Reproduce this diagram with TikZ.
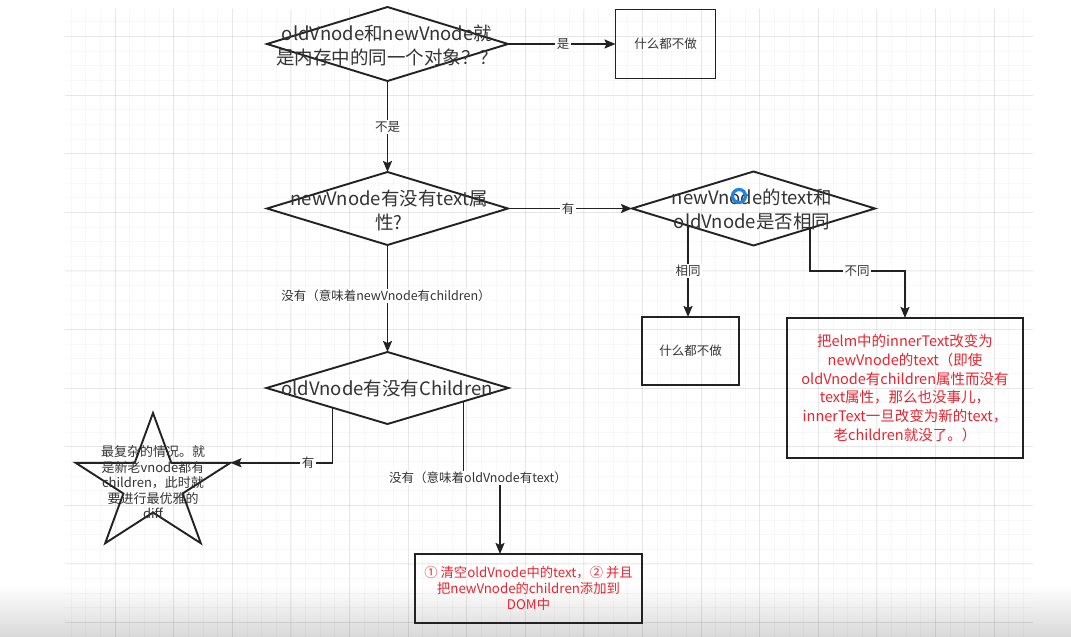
\documentclass[tikz,border=0pt]{standalone}
\usepackage{fontspec}
\setmainfont{Noto Sans CJK SC}
\usetikzlibrary{arrows.meta,calc,shapes.geometric}

\definecolor{ink}{HTML}{222222}
\definecolor{txt}{HTML}{333333}
\definecolor{warn}{HTML}{E8242F}
\definecolor{cursorblue}{HTML}{1E82E6}

\tikzset{
  diashape/.style={diamond, draw=ink, line width=1.9pt, inner sep=0pt, outer sep=0pt},
  diatext/.style={text=txt, align=center, inner sep=0pt, font=\fontsize{18.5pt}{24pt}\selectfont},
  flowbox/.style={rectangle, draw=ink, line width=1.9pt, inner sep=0pt, outer sep=0pt,
                  align=center, text=txt, font=\fontsize{12.5pt}{16pt}\selectfont},
  notebox/.style={flowbox, text=warn, font=\fontsize{14.5pt}{18.7pt}\selectfont},
  edgelabel/.style={fill=white, text=txt, inner sep=1.5pt, font=\fontsize{12.5pt}{15pt}\selectfont},
  flowline/.style={draw=ink, line width=1.8pt, -{Stealth[length=11pt,width=9pt,inset=2pt]}},
  gridminor/.style={draw=black, draw opacity=0.028, line width=0.6pt},
  gridmajor/.style={draw=black, draw opacity=0.065, line width=0.8pt},
}

\begin{document}
\begin{tikzpicture}[x=1pt,y=-1pt]
  % canvas
  \fill[white] (0,0) rectangle (1071,637);
  \useasboundingbox (0,0) rectangle (1071,637);
  \shade[top color=white, bottom color=black!15] (0,585) rectangle (1071,637);

  % editor grid
  \begin{scope}
    \clip (65,9) rectangle (1033,637);
    \foreach \i in {0,...,68} {
      \draw[gridminor] ({56.4+\i*14.65},0) -- ++(0,637);
    }
    \foreach \i in {0,...,45} {
      \draw[gridminor] (0,{7.1+\i*14.65}) -- ++(1071,0);
    }
    \foreach \i in {0,...,17} {
      \draw[gridmajor] ({56.4+\i*58.6},0) -- ++(0,637);
    }
    \foreach \i in {0,...,11} {
      \draw[gridmajor] (0,{36.4+\i*58.6}) -- ++(1071,0);
    }
  \end{scope}

  % decision shapes
  \node[diashape, minimum width=241pt, minimum height=74pt] (d1) at (387.5,44) {};
  \node[diatext] (t1) at (387,45) {oldVnode和newVnode就\\是内存中的同一个对象？？};

  \node[diashape, minimum width=241pt, minimum height=73pt] (d2) at (387.5,208.5) {};
  \node[diatext] (t2) at (389,210) {newVnode有没有text属\\性?};

  \node[diashape, minimum width=243pt, minimum height=74pt] (d3) at (753.5,208.5) {};
  \node[diatext] (t3) at (752,209) {newVnode的text和\\oldVnode是否相同};

  \node[diashape, minimum width=242pt, minimum height=72pt] (d4) at (387.5,388) {};
  \node[diatext] (t4) at (387,388) {oldVnode有没有Children};

  % action boxes
  \node[flowbox, minimum width=100pt, minimum height=69pt] (b1) at (665.5,44) {什么都不做};
  \node[flowbox, minimum width=97pt, minimum height=68pt] (b2) at (690.5,351) {什么都不做};
  \node[notebox, minimum width=236pt, minimum height=140pt] (b3) at (905,388)
    {把elm中的innerText改变为\\newVnode的text（即使\\oldVnode有children属性而没有\\text属性，那么也没事儿，\\innerText一旦改变为新的text，\\老children就没了。）};
  \node[notebox, minimum width=227pt, minimum height=69pt,
        font=\fontsize{13.3pt}{16pt}\selectfont] (b4) at (528.5,588.5)
    {① 清空oldVnode中的text，② 并且\\把newVnode的children添加到\\DOM中};

  % star
  \draw[ink, line width=1.9pt, line join=miter]
    (153,413) -- (171.3,462.8) -- (230.4,462.8) -- (182.6,493.5) -- (200.8,543.2)
    -- (153,512.5) -- (105.2,543.2) -- (123.4,493.5) -- (75.6,462.8) -- (134.7,462.8) -- cycle;
  \coordinate (stip) at (230.4,462.8);
  \node[text=txt, align=center, inner sep=0pt, font=\fontsize{13pt}{15.5pt}\selectfont] (st) at (153,482.5)
    {最复杂的情况。就\\是新老vnode都有\\children，此时就\\要进行最优雅的\\diff};

  % bends
  \coordinate (k1) at (500,478);

  % connectors
  \draw[flowline] (d1.east) -- (b1.west);
  \draw[flowline] (d1.south) -- (d2.north);
  \draw[flowline] (d2.east) -- (d3.west);
  \draw[flowline] (d2.south) -- (d4.north);
  \coordinate (s3a) at ($(d3.west)!0.461!(d3.south)$);
  \draw[flowline] (s3a) -- (s3a |- b2.north);
  \coordinate (s3b) at ($(d3.east)!0.533!(d3.south)$);
  \draw[flowline] (s3b) |- (857,271) -| (b3.north);
  \coordinate (s4a) at ($(d4.west)!0.545!(d4.south)$);
  \draw[flowline] (s4a) |- (stip);
  \coordinate (s4b) at ($(d4.east)!0.372!(d4.south)$);
  \draw[flowline] (s4b) |- (k1) -- (k1 |- b4.north);

  % connector labels
  \node[edgelabel] (l1) at (563,44) {是};
  \node[edgelabel] (l2) at (387.5,127) {不是};
  \node[edgelabel] (l3) at (568,208.5) {有};
  \node[edgelabel] (l4) at (688,271) {相同};
  \node[edgelabel] (l5) at (857,271) {不同};
  \node[edgelabel] (l6) at (386,296) {没有（意味着newVnode有children）};
  \node[edgelabel] (l7) at (308,462.8) {有};
  \node[edgelabel] (l8) at (478,478) {没有（意味着oldVnode有text）};

  % pointer ring
  \draw[cursorblue, line width=3.2pt] (739,196) circle (6.5);
\end{tikzpicture}
\end{document}
